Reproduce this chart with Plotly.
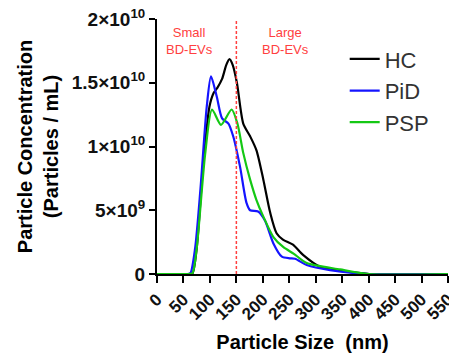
import plotly.graph_objects as go

# Particle size (nm) and concentration (particles/mL)
hc_x = [0, 60, 67, 75, 86, 99, 107, 114, 123, 131, 137, 143, 151, 163, 176, 188, 201, 214, 226, 238, 257, 276, 308, 346, 402, 550]
hc_y = [0, 0, 0.05e9, 2.0e9, 7.9e9, 13.1e9, 14.2e9, 14.6e9, 15.3e9, 16.4e9, 16.85e9, 16.4e9, 15.0e9, 11.8e9, 10.8e9, 9.7e9, 7.4e9, 4.8e9, 3.2e9, 2.7e9, 2.3e9, 1.5e9, 0.57e9, 0.26e9, 0, 0]

pid_x = [0, 58, 63, 72, 82, 94, 102, 113, 123, 135, 144, 157, 169, 176, 191, 204, 220, 236, 251, 261, 283, 327, 400, 550]
pid_y = [0, 0, 0.05e9, 2.0e9, 6.6e9, 13.1e9, 15.5e9, 13.9e9, 12.2e9, 11.8e9, 10.8e9, 8.4e9, 5.6e9, 5.0e9, 4.9e9, 4.2e9, 2.4e9, 1.36e9, 1.23e9, 1.2e9, 0.7e9, 0.3e9, 0, 0]

psp_x = [0, 60, 67, 75, 91, 104, 121, 141, 152, 163, 176, 188, 201, 220, 239, 258, 283, 346, 400, 550]
psp_y = [0, 0, 0.05e9, 2.0e9, 9.4e9, 12.9e9, 11.7e9, 12.9e9, 11.8e9, 9.5e9, 7.4e9, 5.8e9, 4.5e9, 2.9e9, 2.1e9, 1.6e9, 0.86e9, 0.36e9, 0, 0]

x_ticks = [0, 50, 100, 150, 200, 250, 300, 350, 400, 450, 500, 550]
y_ticks = [0, 5e9, 1e10, 1.5e10, 2e10]
y_tick_labels = ["0", "5×10<sup>9</sup>", "1×10<sup>10</sup>", "1.5×10<sup>10</sup>", "2×10<sup>10</sup>"]
cutoff = 150

FONT = "Arial, Liberation Sans, sans-serif"
RED = "#ff4040"

fig = go.Figure()
for name, xs, ys, col in [("HC", hc_x, hc_y, "#000000"),
                          ("PiD", pid_x, pid_y, "#1414ff"),
                          ("PSP", psp_x, psp_y, "#14c814")]:
    fig.add_trace(go.Scatter(x=xs, y=ys, name=name, mode="lines",
                             line=dict(color=col, width=2.2, shape="spline", smoothing=0.7)))

fig.add_shape(type="line", x0=cutoff, x1=cutoff, y0=0, y1=1, yref="paper",
              line=dict(color=RED, width=1.5, dash="3px,2px"))

fig.add_annotation(x=62, y=1.97e10, text="Small<br>BD-EVs", showarrow=False,
                   font=dict(family=FONT, size=13, color=RED), yanchor="top")
fig.add_annotation(x=242, y=1.97e10, text="Large<br>BD-EVs", showarrow=False,
                   font=dict(family=FONT, size=13, color=RED), yanchor="top")

fig.update_layout(
    width=449, height=362,
    margin=dict(l=157, r=1, t=19, b=88),
    paper_bgcolor="white", plot_bgcolor="white",
    font=dict(family=FONT, color="#000000"),
    legend=dict(x=0.645, y=0.925, xanchor="left", yanchor="top",
                font=dict(family=FONT, size=22, color="#333333"),
                bgcolor="rgba(0,0,0,0)", itemwidth=30),
    xaxis=dict(range=[0, 550], tickmode="array", tickvals=x_ticks,
               ticktext=["<b>%d</b>" % v for v in x_ticks], tickangle=-45,
               showgrid=False, zeroline=False, showline=True, linecolor="black", linewidth=2,
               ticks="outside", ticklen=7, tickwidth=2, tickcolor="black", automargin=False,
               ticklabeloverflow="allow",
               tickfont=dict(family=FONT, size=17, color="#111111"),
               title=dict(text="<b>Particle Size  (nm)</b>", font=dict(family=FONT, size=20), standoff=12)),
    yaxis=dict(range=[0, 2e10], tickmode="array", tickvals=y_ticks,
               ticktext=["<b>%s</b>" % t for t in y_tick_labels],
               showgrid=False, zeroline=False, showline=True, linecolor="black", linewidth=2,
               ticks="outside", ticklen=6, tickwidth=2, tickcolor="black", automargin=False,
               ticklabeloverflow="allow",
               tickfont=dict(family=FONT, size=19, color="#111111"),
               title=dict(text="<b>Particle Concentration<br>(Particles / mL)</b>", font=dict(family=FONT, size=20), standoff=8)),
)

fig.write_html("out.html", config={"displayModeBar": False},
               post_script="document.body.style.margin='0';")
